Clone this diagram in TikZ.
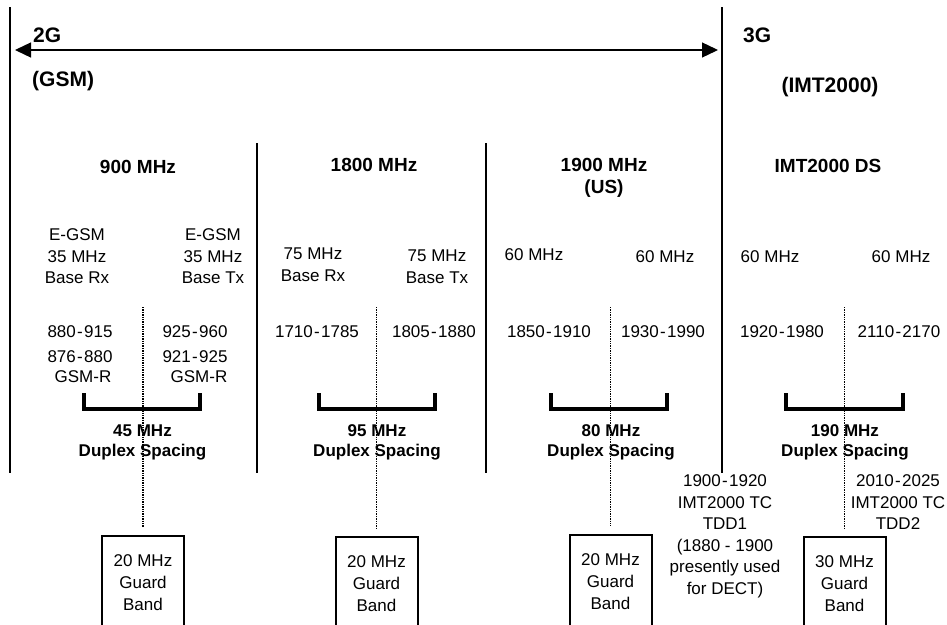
\documentclass[tikz,border=0pt]{standalone}
\usepackage{fontspec}
\setmainfont{Liberation Sans}
\usetikzlibrary{arrows.meta}
\newcommand\myrange[2]{#1\hspace{1.3pt}-\hspace{1.3pt}#2}
\begin{document}
\begin{tikzpicture}[x=1pt,y=-1pt,
  big/.style={font=\fontsize{21}{25}\selectfont\bfseries, inner sep=0pt},
  head/.style={font=\fontsize{19}{22}\selectfont\bfseries, inner sep=0pt},
  headml/.style={font=\fontsize{19}{22}\selectfont\bfseries, inner sep=0pt, align=center},
  txt/.style={font=\fontsize{17}{21.5}\selectfont, inner sep=0pt},
  lbl/.style={font=\fontsize{17}{21.5}\selectfont, inner sep=0pt, align=center},
  dup/.style={font=\fontsize{17}{20}\selectfont\bfseries, inner sep=0pt, align=center},
  sepline/.style={line width=2pt},
  brk/.style={line width=4pt, line join=miter},
  dots/.style={line width=1.8pt, dash pattern=on 1.4pt off 1pt},
  guard/.style={draw, line width=2pt, minimum width=82pt, minimum height=94pt,
    inner sep=0pt, align=center, font=\fontsize{17}{22}\selectfont}]
\clip (0,0) rectangle (947,624);

% separators
\coordinate (s0t) at (10,7);   \coordinate (s0b) at (10,473);
\coordinate (s3t) at (722,7);  \coordinate (s3b) at (722,473);
\coordinate (s1t) at (257,143); \coordinate (s1b) at (257,473);
\coordinate (s2t) at (486,143); \coordinate (s2b) at (486,473);
\draw[sepline] (s0t) -- (s0b);
\draw[sepline] (s3t) -- (s3b);
\draw[sepline] (s1t) -- (s1b);
\draw[sepline] (s2t) -- (s2b);

% double arrow
\coordinate (aL) at (15,50);
\coordinate (aR) at (718,50);
\draw[line width=1.3pt, {Triangle[length=16pt,width=15pt]}-{Triangle[length=16pt,width=15pt]}] (aL) -- (aR);

% top labels
\node[big, anchor=base west] (g2) at (33,42) {2G};
\node[big, anchor=base west] (gsm) at (32,86) {(GSM)};
\node[big, anchor=base west] (g3) at (743,42) {3G};
\node[big, anchor=base] (imt) at (830,92) {(IMT2000)};

% headings
\node[head, anchor=base] (h900) at (138,173) {900 MHz};
\node[head, anchor=base] (h1800) at (374,171) {1800 MHz};
\node[headml] (h1900) at (604,178.2) {1900 MHz\\(US)};
\node[head, anchor=base] (himt) at (828,172) {IMT2000 DS};

% band descriptions
\node[lbl] (egL) at (77,256.3) {E-GSM\\35 MHz\\Base Rx};
\node[lbl] (egR) at (213,256.3) {E-GSM\\35 MHz\\Base Tx};
\node[lbl] (b18L) at (313,264.7) {75 MHz\\Base Rx};
\node[lbl] (b18R) at (437,266.7) {75 MHz\\Base Tx};
\node[txt, anchor=base] (b19L) at (534,260) {60 MHz};
\node[txt, anchor=base] (b19R) at (665,262) {60 MHz};
\node[txt, anchor=base] (bimL) at (770,262) {60 MHz};
\node[txt, anchor=base] (bimR) at (901,262) {60 MHz};

% frequency ranges
\node[txt, anchor=base] (f1) at (80,337) {\myrange{880}{915}};
\node[txt, anchor=base] (f2) at (195,337) {\myrange{925}{960}};
\node[txt, anchor=base] (f3) at (317,337) {\myrange{1710}{1785}};
\node[txt, anchor=base] (f4) at (434,337) {\myrange{1805}{1880}};
\node[txt, anchor=base] (f5) at (549,337) {\myrange{1850}{1910}};
\node[txt, anchor=base] (f6) at (663,337) {\myrange{1930}{1990}};
\node[txt, anchor=base] (f7) at (782,337) {\myrange{1920}{1980}};
\node[txt, anchor=base] (f8) at (899,337) {\myrange{2110}{2170}};
\node[txt, anchor=base] (r1) at (80,362) {\myrange{876}{880}};
\node[txt, anchor=base] (r2) at (195,362) {\myrange{921}{925}};
\node[txt, anchor=base] (r1b) at (83,382) {GSM-R};
\node[txt, anchor=base] (r2b) at (199,382) {GSM-R};

% brackets
\draw[brk] (84,393) -- (84,409) -- (199.5,409) -- (199.5,393);
\draw[brk] (319,393) -- (319,409) -- (434.7,409) -- (434.7,393);
\draw[brk] (551,393) -- (551,409) -- (667,409) -- (667,393);
\draw[brk] (786,393) -- (786,409) -- (903,409) -- (903,393);

% duplex spacing labels
\node[dup] (d45) at (142.5,442.7) {45 MHz\\Duplex Spacing};
\node[dup] (d95) at (377,442.7) {95 MHz\\Duplex Spacing};
\node[dup] (d80) at (611,442.7) {80 MHz\\Duplex Spacing};
\node[dup] (d190) at (845,442.7) {190 MHz\\Duplex Spacing};

% TDD texts
\node[lbl] (tdd1) at (725,536.5) {\myrange{1900}{1920}\\IMT2000 TC\\TDD1\\(1880 - 1900\\presently used\\for DECT)};
\node[lbl] (tdd2) at (898,502.4) {\myrange{2010}{2025}\\IMT2000 TC\\TDD2};

% guard bands
\node[guard] (gb1) at (143,583) {20 MHz\\Guard\\Band};
\node[guard] (gb2) at (376.5,584) {20 MHz\\Guard\\Band};
\node[guard] (gb3) at (610.5,582) {20 MHz\\Guard\\Band};
\node[guard] (gb4) at (844.5,584) {30 MHz\\Guard\\Band};

% dotted centre lines
\coordinate (c1) at (143,307);
\coordinate (c2) at (376.5,307);
\coordinate (c3) at (610.5,307);
\coordinate (c4) at (844.5,307);
\draw[dots, shorten >=8pt] (c1) -- (gb1.north);
\draw[dots, shorten >=8pt] (c2) -- (gb2.north);
\draw[dots, shorten >=8pt] (c3) -- (gb3.north);
\draw[dots, shorten >=8pt] (c4) -- (gb4.north);
\end{tikzpicture}
\end{document}
